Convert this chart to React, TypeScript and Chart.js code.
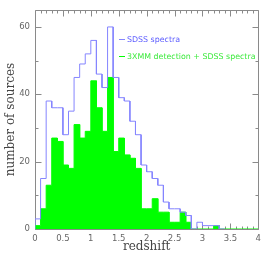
import React, { useEffect, useRef } from "react";
import { Chart, registerables } from "chart.js";

Chart.register(...registerables);

// Bin edges (redshift), bin width 0.1
const BIN_EDGES = [
  0.0, 0.1, 0.2, 0.3, 0.4, 0.5, 0.6, 0.7, 0.8, 0.9,
  1.0, 1.1, 1.2, 1.3, 1.4, 1.5, 1.6, 1.7, 1.8, 1.9,
  2.0, 2.1, 2.2, 2.3, 2.4, 2.5, 2.6, 2.7, 2.8, 2.9,
  3.0, 3.1, 3.2, 3.3, 3.4, 3.5, 3.6, 3.7, 3.8, 3.9, 4.0,
];

// SDSS spectra (blue outline), per bin starting at 0.0
const SDSS_COUNTS = [
  3, 15, 38, 36, 36, 28, 35, 45, 49, 52,
  56, 46, 42, 60, 45, 39, 38, 32, 28, 19,
  17, 15, 13, 8, 6, 6, 5, 4, 0, 2,
  1, 1, 1, 0,
];

// 3XMM detection + SDSS spectra (green filled), per bin starting at 0.0
const XMM_COUNTS = [
  1, 6, 13, 27, 26, 19, 18, 31, 27, 29,
  44, 36, 29, 45, 23, 27, 22, 21, 18, 6,
  6, 9, 5, 5, 2, 2, 5, 2, 0, 0,
  0, 0, 1, 0, 0, 0, 0, 0, 0, 0,
];

const X_TICK_LABEL_STEP = 0.5;
const Y_TICK_LABEL_STEP = 20;
const X_MIN = 0;
const X_MAX = 4;
const Y_MIN = 0;
const Y_MAX = 65;

const LEGEND_LABELS = ["SDSS spectra", "3XMM detection + SDSS spectra"];

const BLUE_LINE = "#8585ff";
const BLUE_TEXT = "#5c5cff";
const GREEN_FILL = "#00ff00";
const GREEN_TEXT = "#3dea3d";
const FRAME = "#8a8a8a";

// Step outline: horizontal at each bin's count across the bin, vertical at edges
function toSteps(counts: number[], extendTo?: number) {
  const pts = [{ x: BIN_EDGES[0], y: 0 }];
  counts.forEach((v, i) => {
    pts.push({ x: BIN_EDGES[i], y: v });
    pts.push({ x: BIN_EDGES[i + 1], y: v });
  });
  pts.push({ x: BIN_EDGES[counts.length], y: 0 });
  if (extendTo !== undefined) pts.push({ x: extendTo, y: 0 });
  return pts;
}

const framePlugin = {
  id: "frameTicks",
  beforeDatasetsDraw(chart: any) {
    const { ctx, chartArea: a, scales } = chart;
    const xs = scales.x;
    const ys = scales.y;
    ctx.save();
    ctx.strokeStyle = FRAME;
    ctx.lineWidth = 1;
    ctx.beginPath();
    const L = Math.round(a.left) + 0.5;
    const R = Math.round(a.right) + 0.5;
    const T = Math.round(a.top) + 0.5;
    const B = Math.round(a.bottom) + 0.5;
    ctx.moveTo(L, T);
    ctx.lineTo(R, T);
    ctx.lineTo(R, B);
    ctx.lineTo(L, B);
    ctx.closePath();
    for (let i = 0; i <= 40; i++) {
      const v = i / 10;
      const px = Math.round(xs.getPixelForValue(v)) + 0.5;
      const len = i % 5 === 0 ? 6 : 3;
      ctx.moveTo(px, B);
      ctx.lineTo(px, B - len);
      ctx.moveTo(px, T);
      ctx.lineTo(px, T + len);
    }
    for (let i = 0; i <= 6; i++) {
      const v = i * 10;
      const py = Math.round(ys.getPixelForValue(v)) + 0.5;
      const len = i % 2 === 0 ? 6 : 3;
      ctx.moveTo(L, py);
      ctx.lineTo(L + len, py);
      ctx.moveTo(R, py);
      ctx.lineTo(R - len, py);
    }
    ctx.stroke();
    ctx.restore();
  },
};

const legendPlugin = {
  id: "insideLegend",
  afterDatasetsDraw(chart: any) {
    const { ctx } = chart;
    ctx.save();
    ctx.font = "7.9px 'DejaVu Sans'";
    ctx.textBaseline = "middle";
    ctx.textAlign = "left";
    const rows = [
      { y: 39.5, line: BLUE_LINE, text: BLUE_TEXT, label: LEGEND_LABELS[0] },
      { y: 56.5, line: GREEN_FILL, text: GREEN_TEXT, label: LEGEND_LABELS[1] },
    ];
    rows.forEach((r) => {
      ctx.strokeStyle = r.line;
      ctx.lineWidth = 1;
      ctx.beginPath();
      ctx.moveTo(119, r.y);
      ctx.lineTo(125, r.y);
      ctx.stroke();
      ctx.fillStyle = r.text;
      ctx.fillText(r.label, 127, r.y);
    });
    ctx.restore();
  },
};

export default function App() {
  const ref = useRef<HTMLCanvasElement | null>(null);

  useEffect(() => {
    if (!ref.current) return;
    const chart = new Chart(ref.current, {
      type: "line",
      data: {
        datasets: [
          {
            label: LEGEND_LABELS[0],
            data: toSteps(SDSS_COUNTS),
            borderColor: BLUE_LINE,
            borderWidth: 1,
            pointRadius: 0,
            tension: 0,
            fill: false,
            order: 0,
          },
          {
            label: LEGEND_LABELS[1],
            data: toSteps(XMM_COUNTS, X_MAX),
            borderColor: GREEN_FILL,
            backgroundColor: GREEN_FILL,
            borderWidth: 1,
            pointRadius: 0,
            tension: 0,
            fill: "origin",
            order: 1,
          },
        ],
      },
      options: {
        animation: false,
        responsive: false,
        devicePixelRatio: 1,
        layout: { padding: { top: 6, right: 7, left: 0, bottom: 0 } },
        plugins: { legend: { display: false }, tooltip: { enabled: false } },
        scales: {
          x: {
            type: "linear",
            min: X_MIN,
            max: X_MAX,
            grid: { display: false, drawTicks: false },
            border: { display: false },
            ticks: {
              stepSize: X_TICK_LABEL_STEP,
              autoSkip: false,
              maxRotation: 0,
              includeBounds: false,
              padding: 5,
              color: "#666",
              font: { family: "'DejaVu Sans'", size: 8.5 },
              callback: (v: any) => String(Math.round(Number(v) * 10) / 10),
            },
            title: {
              display: true,
              text: "redshift",
              color: "#444",
              font: { family: "'DejaVu Serif'", size: 12 },
              padding: { top: 0, bottom: 6 },
            },
            afterFit: (s: any) => {
              s.height = 31;
            },
          },
          y: {
            type: "linear",
            min: Y_MIN,
            max: Y_MAX,
            grid: { display: false, drawTicks: false },
            border: { display: false },
            ticks: {
              stepSize: Y_TICK_LABEL_STEP,
              includeBounds: false,
              padding: 5,
              color: "#666",
              font: { family: "'DejaVu Sans'", size: 8.5 },
            },
            title: {
              display: true,
              text: "number of sources",
              color: "#444",
              font: { family: "'DejaVu Serif'", size: 12 },
              padding: { top: 4, bottom: 0 },
            },
            afterFit: (s: any) => {
              s.width = 35;
            },
          },
        },
      },
      plugins: [framePlugin, legendPlugin],
    });
    return () => chart.destroy();
  }, []);

  return (
    <div style={{ position: "fixed", left: 0, top: 0, width: 266, height: 260, background: "#fff" }}>
      <canvas ref={ref} width={266} height={260} style={{ width: 266, height: 260, display: "block" }} />
    </div>
  );
}
